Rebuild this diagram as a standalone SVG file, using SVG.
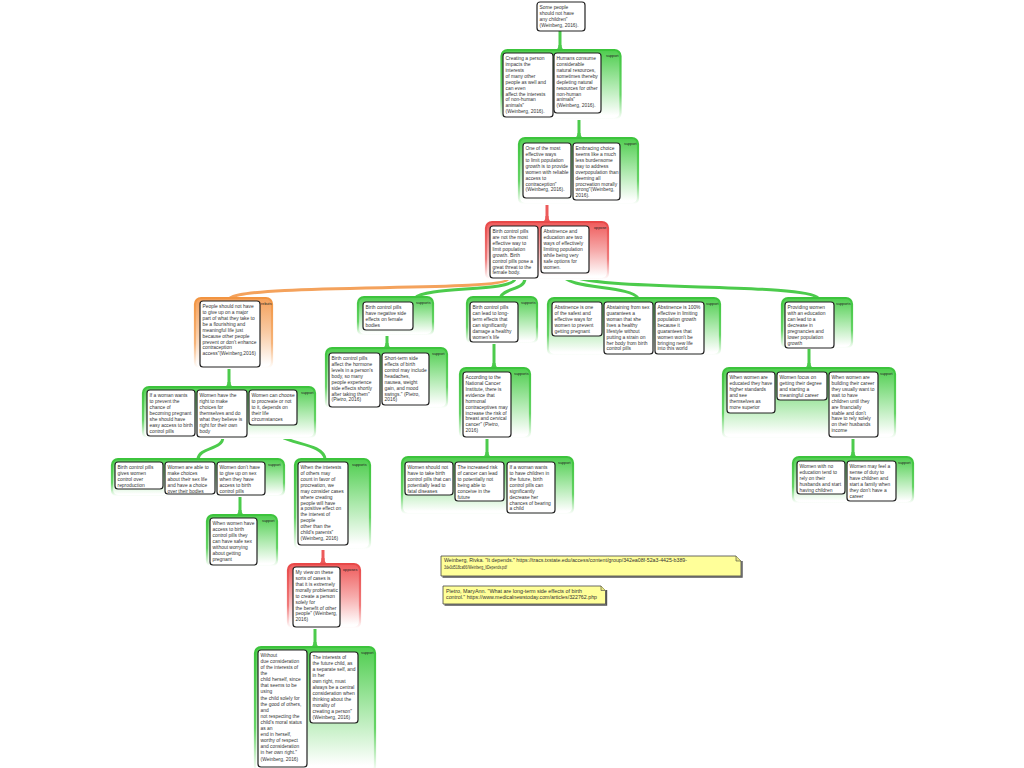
<svg xmlns="http://www.w3.org/2000/svg" width="1024" height="768" viewBox="0 0 1024 768">
<defs>
<linearGradient id="gfG" x1="0" y1="0" x2="0" y2="1"><stop offset="0" stop-color="#4ecd4e"/><stop offset="0.5" stop-color="#ace9ac"/><stop offset="0.95" stop-color="#ffffff"/></linearGradient>
<linearGradient id="gsG" x1="0" y1="0" x2="0" y2="1"><stop offset="0" stop-color="#3cc43c"/><stop offset="0.65" stop-color="#66d466"/><stop offset="1" stop-color="#ffffff"/></linearGradient>
<linearGradient id="gfR" x1="0" y1="0" x2="0" y2="1"><stop offset="0" stop-color="#ef5a5a"/><stop offset="0.5" stop-color="#f6aaaa"/><stop offset="0.95" stop-color="#ffffff"/></linearGradient>
<linearGradient id="gsR" x1="0" y1="0" x2="0" y2="1"><stop offset="0" stop-color="#e84848"/><stop offset="0.65" stop-color="#f07c7c"/><stop offset="1" stop-color="#ffffff"/></linearGradient>
<linearGradient id="gfO" x1="0" y1="0" x2="0" y2="1"><stop offset="0" stop-color="#f5a05a"/><stop offset="0.5" stop-color="#f9cca6"/><stop offset="0.95" stop-color="#ffffff"/></linearGradient>
<linearGradient id="gsO" x1="0" y1="0" x2="0" y2="1"><stop offset="0" stop-color="#f29440"/><stop offset="0.65" stop-color="#f6b47a"/><stop offset="1" stop-color="#ffffff"/></linearGradient>
</defs>
<style>
.gG{fill:url(#gfG);stroke:url(#gsG);stroke-width:2.2}
.gR{fill:url(#gfR);stroke:url(#gsR);stroke-width:2.2}
.gO{fill:url(#gfO);stroke:url(#gsO);stroke-width:2.2}
.bx{fill:#fff;stroke:#222;stroke-width:1.2}
.t{font-family:"Liberation Sans",Arial,sans-serif;font-size:4.9px;fill:#333}
.lb{font-family:"Liberation Sans",Arial,sans-serif;font-size:3.8px;fill:#222}
.nt{font-family:"Liberation Sans",Arial,sans-serif;font-size:4.6px;fill:#333}
.cG{fill:none;stroke:#4ccb4c;stroke-width:3}
.cR{fill:none;stroke:#ec5a5a;stroke-width:3}
.cO{fill:none;stroke:#f4a25c;stroke-width:3}
.fG{fill:#4ccb4c}
.fR{fill:#ec5a5a}
.note{fill:#ffff99;stroke:#444;stroke-width:0.8}
.nsh{fill:none;stroke:#555;stroke-width:1.4}
</style>

<g id="connectors">
<path class="cG" d="M560,31 V50"/><path class="fG" d="M554,50 Q558.5,50 558.5,45 L561.5,45 Q561.5,50 566,50 Z"/>
<path class="cG" d="M579,113 V138"/><path class="fG" d="M573,138 Q577.5,138 577.5,133 L580.5,133 Q580.5,138 585,138 Z"/>
<path class="cR" d="M547,200 V222"/><path class="cR" d="M544,201 H550" stroke-width="1.5"/><path class="fR" d="M541,222 Q545.5,222 545.5,216 L548.5,216 Q548.5,222 553,222 Z"/>
<path class="cO" d="M508,279 C505,292 252,283 230,298"/>
<path class="cG" d="M515,279 C512,292 425,286 415,298"/>
<path class="cG" d="M525,279 C524,290 503,288 500,298"/>
<path class="cG" d="M562,274 C566,290 630,285 638,298"/>
<path class="cG" d="M569,274 C585,292 805,282 818,298"/>
<path class="cG" d="M229,367 V387"/><path class="fG" d="M223,387 Q227.5,387 227.5,382 L230.5,382 Q230.5,387 235,387 Z"/>
<path class="cG" d="M223,437 C223,450 199,447 198,459"/>
<path class="cG" d="M273,425 C273,446 323,440 325,459"/>
<path class="cG" d="M240,495 V515"/><path class="fG" d="M234,515 Q238.5,515 238.5,510 L241.5,510 Q241.5,515 246,515 Z"/>
<path class="cR" d="M323,545 V564"/><path class="cR" d="M320,546 H326" stroke-width="1.5"/><path class="fR" d="M317,564 Q321.5,564 321.5,558 L324.5,558 Q324.5,564 329,564 Z"/>
<path class="cG" d="M315,627 V647"/><path class="fG" d="M309,647 Q313.5,647 313.5,642 L316.5,642 Q316.5,647 321,647 Z"/>
<path class="cG" d="M387,330 V348"/><path class="fG" d="M381,348 Q385.5,348 385.5,343 L388.5,343 Q388.5,348 393,348 Z"/>
<path class="cG" d="M494,342 V368"/><path class="fG" d="M488,368 Q492.5,368 492.5,363 L495.5,363 Q495.5,368 500,368 Z"/>
<path class="cG" d="M487,437 V457"/><path class="fG" d="M481,457 Q485.5,457 485.5,452 L488.5,452 Q488.5,457 493,457 Z"/>
<path class="cG" d="M809,348 V368"/><path class="fG" d="M803,368 Q807.5,368 807.5,363 L810.5,363 Q810.5,368 815,368 Z"/>
<path class="cG" d="M853,437 V457"/><path class="fG" d="M847,457 Q851.5,457 851.5,452 L854.5,452 Q854.5,457 859,457 Z"/>
</g>

<g id="n-some-people">
<rect class="bx" x="537" y="2" width="48" height="29" rx="3"/>
<text class="t" y="8.8"><tspan x="539.5">Some people</tspan><tspan x="539.5" dy="5.95">should not have</tspan><tspan x="539.5" dy="5.95">any children"</tspan><tspan x="539.5" dy="5.95">(Weinberg, 2016).</tspan></text>
</g>

<g id="g1">
<rect class="gG" x="501.5" y="50" width="119" height="69" rx="6"/>
<text class="lb" x="606" y="57">support</text>
<g id="n-creating-person"><rect class="bx" x="503" y="53" width="50" height="64" rx="3"/>
<text class="t" y="59.8"><tspan x="505.5">Creating a person</tspan><tspan x="505.5" dy="5.95">impacts the</tspan><tspan x="505.5" dy="5.95">interests</tspan><tspan x="505.5" dy="5.95">of many other</tspan><tspan x="505.5" dy="5.95">people as well and</tspan><tspan x="505.5" dy="5.95">can even</tspan><tspan x="505.5" dy="5.95">affect the interests</tspan><tspan x="505.5" dy="5.95">of non-human</tspan><tspan x="505.5" dy="5.95">animals"</tspan><tspan x="505.5" dy="5.95">(Weinberg, 2016).</tspan></text></g>
<g id="n-humans-consume"><rect class="bx" x="554" y="53" width="47" height="60" rx="3"/>
<text class="t" y="59.8"><tspan x="556.5">Humans consume</tspan><tspan x="556.5" dy="5.95">considerable</tspan><tspan x="556.5" dy="5.95">natural resources,</tspan><tspan x="556.5" dy="5.95">sometimes thereby</tspan><tspan x="556.5" dy="5.95">depleting natural</tspan><tspan x="556.5" dy="5.95">resources for other</tspan><tspan x="556.5" dy="5.95">non-human</tspan><tspan x="556.5" dy="5.95">animals"</tspan><tspan x="556.5" dy="5.95">(Weinberg, 2016).</tspan></text></g>
</g>

<g id="g2">
<rect class="gG" x="519" y="138" width="119" height="66" rx="6"/>
<text class="lb" x="624" y="145">support</text>
<g id="n-one-of-most"><rect class="bx" x="523" y="143" width="48" height="55" rx="3"/>
<text class="t" y="149.8"><tspan x="525.5">One of the most</tspan><tspan x="525.5" dy="5.95">effective ways</tspan><tspan x="525.5" dy="5.95">to limit population</tspan><tspan x="525.5" dy="5.95">growth is to provide</tspan><tspan x="525.5" dy="5.95">women with reliable</tspan><tspan x="525.5" dy="5.95">access to</tspan><tspan x="525.5" dy="5.95">contraception"</tspan><tspan x="525.5" dy="5.95">(Weinberg, 2016).</tspan></text></g>
<g id="n-embracing-choice"><rect class="bx" x="573" y="143" width="47" height="57" rx="3"/>
<text class="t" y="149.8"><tspan x="575.5">Embracing choice</tspan><tspan x="575.5" dy="5.95">seems like a much</tspan><tspan x="575.5" dy="5.95">less burdensome</tspan><tspan x="575.5" dy="5.95">way to address</tspan><tspan x="575.5" dy="5.95">overpopulation than</tspan><tspan x="575.5" dy="5.95">deeming all</tspan><tspan x="575.5" dy="5.95">procreation morally</tspan><tspan x="575.5" dy="5.95">wrong"(Weinberg,</tspan><tspan x="575.5" dy="5.95">2016).</tspan></text></g>
</g>

<g id="g3">
<rect class="gR" x="486" y="222" width="122" height="57" rx="6"/>
<text class="lb" x="594" y="229">oppose</text>
<g id="n-bcp-not-most"><rect class="bx" x="490" y="226" width="48" height="52" rx="3"/>
<text class="t" y="232.8"><tspan x="492.5">Birth control pills</tspan><tspan x="492.5" dy="5.95">are not the most</tspan><tspan x="492.5" dy="5.95">effective way to</tspan><tspan x="492.5" dy="5.95">limit population</tspan><tspan x="492.5" dy="5.95">growth. Birth</tspan><tspan x="492.5" dy="5.95">control pills pose a</tspan><tspan x="492.5" dy="5.95">great threat to the</tspan><tspan x="492.5" dy="5.95">female body.</tspan></text></g>
<g id="n-abstinence-education"><rect class="bx" x="541" y="226" width="48" height="47" rx="3"/>
<text class="t" y="232.8"><tspan x="543.5">Abstinence and</tspan><tspan x="543.5" dy="5.95">education are two</tspan><tspan x="543.5" dy="5.95">ways of effectively</tspan><tspan x="543.5" dy="5.95">limiting population</tspan><tspan x="543.5" dy="5.95">while being very</tspan><tspan x="543.5" dy="5.95">safe options for</tspan><tspan x="543.5" dy="5.95">women.</tspan></text></g>
</g>

<g id="g4">
<rect class="gO" x="195" y="298" width="77" height="70" rx="6"/>
<text class="lb" x="261" y="305">rebuts</text>
<g id="n-people-should-not"><rect class="bx" x="200" y="301" width="60" height="66" rx="3"/>
<text class="t" y="307.8"><tspan x="202.5">People should not have</tspan><tspan x="202.5" dy="5.95">to give up on a major</tspan><tspan x="202.5" dy="5.95">part of what they take to</tspan><tspan x="202.5" dy="5.95">be a flourishing and</tspan><tspan x="202.5" dy="5.95">meaningful life just</tspan><tspan x="202.5" dy="5.95">because other people</tspan><tspan x="202.5" dy="5.95">prevent or don't enhance</tspan><tspan x="202.5" dy="5.95">contraception</tspan><tspan x="202.5" dy="5.95">access"(Weinberg,2016)</tspan></text></g>
</g>

<g id="g5">
<rect class="gG" x="143" y="387" width="172" height="51" rx="6"/>
<text class="lb" x="301" y="394">support</text>
<g id="n-woman-wants-prevent"><rect class="bx" x="147" y="390" width="48" height="46" rx="3"/>
<text class="t" y="396.8"><tspan x="149.5">If a woman wants</tspan><tspan x="149.5" dy="5.95">to prevent the</tspan><tspan x="149.5" dy="5.95">chance of</tspan><tspan x="149.5" dy="5.95">becoming pregnant</tspan><tspan x="149.5" dy="5.95">she should have</tspan><tspan x="149.5" dy="5.95">easy access to birth</tspan><tspan x="149.5" dy="5.95">control pills</tspan></text></g>
<g id="n-women-right"><rect class="bx" x="197" y="390" width="50" height="47" rx="3"/>
<text class="t" y="396.8"><tspan x="199.5">Women have the</tspan><tspan x="199.5" dy="5.95">right to make</tspan><tspan x="199.5" dy="5.95">choices for</tspan><tspan x="199.5" dy="5.95">themselves and do</tspan><tspan x="199.5" dy="5.95">what they believe is</tspan><tspan x="199.5" dy="5.95">right for their own</tspan><tspan x="199.5" dy="5.95">body</tspan></text></g>
<g id="n-women-choose"><rect class="bx" x="249" y="390" width="48" height="35" rx="3"/>
<text class="t" y="396.8"><tspan x="251.5">Women can choose</tspan><tspan x="251.5" dy="5.95">to procreate or not</tspan><tspan x="251.5" dy="5.95">to it, depends on</tspan><tspan x="251.5" dy="5.95">their life</tspan><tspan x="251.5" dy="5.95">circumstances</tspan></text></g>
</g>

<g id="g6">
<rect class="gG" x="112" y="459" width="172" height="37" rx="6"/>
<text class="lb" x="268" y="466">support</text>
<g id="n-bcp-control"><rect class="bx" x="115" y="462" width="48" height="27" rx="3"/>
<text class="t" y="468.8"><tspan x="117.5">Birth control pills</tspan><tspan x="117.5" dy="5.95">gives women</tspan><tspan x="117.5" dy="5.95">control over</tspan><tspan x="117.5" dy="5.95">reproduction</tspan></text></g>
<g id="n-women-able"><rect class="bx" x="165" y="462" width="50" height="32" rx="3"/>
<text class="t" y="468.8"><tspan x="167.5">Women are able to</tspan><tspan x="167.5" dy="5.95">make choices</tspan><tspan x="167.5" dy="5.95">about their sex life</tspan><tspan x="167.5" dy="5.95">and have a choice</tspan><tspan x="167.5" dy="5.95">over their bodies</tspan></text></g>
<g id="n-women-sex"><rect class="bx" x="217" y="462" width="48" height="33" rx="3"/>
<text class="t" y="468.8"><tspan x="219.5">Women don't have</tspan><tspan x="219.5" dy="5.95">to give up on sex</tspan><tspan x="219.5" dy="5.95">when they have</tspan><tspan x="219.5" dy="5.95">access to birth</tspan><tspan x="219.5" dy="5.95">control pills</tspan></text></g>
</g>

<g id="g7">
<rect class="gG" x="207" y="515" width="70" height="51" rx="6"/>
<text class="lb" x="262" y="522">support</text>
<g id="n-safe-sex"><rect class="bx" x="210" y="518" width="47" height="47" rx="3"/>
<text class="t" y="524.8"><tspan x="212.5">When women have</tspan><tspan x="212.5" dy="5.95">access to birth</tspan><tspan x="212.5" dy="5.95">control pills they</tspan><tspan x="212.5" dy="5.95">can have safe sex</tspan><tspan x="212.5" dy="5.95">without worrying</tspan><tspan x="212.5" dy="5.95">about getting</tspan><tspan x="212.5" dy="5.95">pregnant</tspan></text></g>
</g>

<g id="g8">
<rect class="gG" x="295" y="459" width="75" height="90" rx="6"/>
<text class="lb" x="352" y="466">supports</text>
<g id="n-interests-others"><rect class="bx" x="298" y="462" width="50" height="83" rx="3"/>
<text class="t" y="468.8"><tspan x="300.5">When the interests</tspan><tspan x="300.5" dy="5.95">of others may</tspan><tspan x="300.5" dy="5.95">count in favor of</tspan><tspan x="300.5" dy="5.95">procreation, we</tspan><tspan x="300.5" dy="5.95">may consider cases</tspan><tspan x="300.5" dy="5.95">where creating</tspan><tspan x="300.5" dy="5.95">people will have</tspan><tspan x="300.5" dy="5.95">a positive effect on</tspan><tspan x="300.5" dy="5.95">the interest of</tspan><tspan x="300.5" dy="5.95">people</tspan><tspan x="300.5" dy="5.95">other than the</tspan><tspan x="300.5" dy="5.95">child's parents"</tspan><tspan x="300.5" dy="5.95">(Weinberg, 2016)</tspan></text></g>
</g>

<g id="g9">
<rect class="gR" x="288" y="564" width="72" height="64" rx="6"/>
<text class="lb" x="343" y="571">opposes</text>
<g id="n-my-view"><rect class="bx" x="293" y="567" width="47" height="60" rx="3"/>
<text class="t" y="573.8"><tspan x="295.5">My view on these</tspan><tspan x="295.5" dy="5.95">sorts of cases is</tspan><tspan x="295.5" dy="5.95">that it is extremely</tspan><tspan x="295.5" dy="5.95">morally problematic</tspan><tspan x="295.5" dy="5.95">to create a person</tspan><tspan x="295.5" dy="5.95">solely for</tspan><tspan x="295.5" dy="5.95">the benefit of other</tspan><tspan x="295.5" dy="5.95">people" (Weinberg,</tspan><tspan x="295.5" dy="5.95">2016)</tspan></text></g>
</g>

<g id="g10">
<rect class="gG" x="255" y="647" width="120" height="125" rx="6"/>
<text class="lb" x="361" y="654">support</text>
<g id="n-without"><rect class="bx" x="258" y="650" width="49" height="117" rx="3"/>
<text class="t" y="656.8"><tspan x="260.5">Without</tspan><tspan x="260.5" dy="6.1">due consideration</tspan><tspan x="260.5" dy="6.1">of the interests of</tspan><tspan x="260.5" dy="6.1">the</tspan><tspan x="260.5" dy="6.1">child herself, since</tspan><tspan x="260.5" dy="6.1">that seems to be</tspan><tspan x="260.5" dy="6.1">using</tspan><tspan x="260.5" dy="6.1">the child solely for</tspan><tspan x="260.5" dy="6.1">the good of others,</tspan><tspan x="260.5" dy="6.1">and</tspan><tspan x="260.5" dy="6.1">not respecting the</tspan><tspan x="260.5" dy="6.1">child's moral status</tspan><tspan x="260.5" dy="6.1">as an</tspan><tspan x="260.5" dy="6.1">end in herself,</tspan><tspan x="260.5" dy="6.1">worthy of respect</tspan><tspan x="260.5" dy="6.1">and consideration</tspan><tspan x="260.5" dy="6.1">in her own right."</tspan><tspan x="260.5" dy="6.1">(Weinberg, 2016)</tspan></text></g>
<g id="n-future-child"><rect class="bx" x="310" y="652" width="48" height="71" rx="3"/>
<text class="t" y="658.8"><tspan x="312.5">The interests of</tspan><tspan x="312.5" dy="6">the future child, as</tspan><tspan x="312.5" dy="6">a separate self, and</tspan><tspan x="312.5" dy="6">in her</tspan><tspan x="312.5" dy="6">own right, must</tspan><tspan x="312.5" dy="6">always be a central</tspan><tspan x="312.5" dy="6">consideration when</tspan><tspan x="312.5" dy="6">thinking about the</tspan><tspan x="312.5" dy="6">morality of</tspan><tspan x="312.5" dy="6">creating a person"</tspan><tspan x="312.5" dy="6">(Weinberg, 2016)</tspan></text></g>
</g>

<g id="g11">
<rect class="gG" x="358" y="297" width="75" height="38" rx="6"/>
<text class="lb" x="416" y="304">supports</text>
<g id="n-negative-side"><rect class="bx" x="363" y="302" width="50" height="28" rx="3"/>
<text class="t" y="308.8"><tspan x="365.5">Birth control pills</tspan><tspan x="365.5" dy="5.95">have negative side</tspan><tspan x="365.5" dy="5.95">effects on female</tspan><tspan x="365.5" dy="5.95">bodies</tspan></text></g>
</g>

<g id="g12">
<rect class="gG" x="326" y="348" width="121" height="60" rx="6"/>
<text class="lb" x="432" y="355">support</text>
<g id="n-hormone"><rect class="bx" x="329" y="353" width="51" height="54" rx="3"/>
<text class="t" y="359.8"><tspan x="331.5">Birth control pills</tspan><tspan x="331.5" dy="5.95">affect the hormone</tspan><tspan x="331.5" dy="5.95">levels in a person's</tspan><tspan x="331.5" dy="5.95">body, so many</tspan><tspan x="331.5" dy="5.95">people experience</tspan><tspan x="331.5" dy="5.95">side effects shortly</tspan><tspan x="331.5" dy="5.95">after taking them"</tspan><tspan x="331.5" dy="5.95">(Pietro, 2016)</tspan></text></g>
<g id="n-short-term"><rect class="bx" x="382" y="353" width="47" height="52" rx="3"/>
<text class="t" y="359.8"><tspan x="384.5">Short-term side</tspan><tspan x="384.5" dy="5.95">effects of birth</tspan><tspan x="384.5" dy="5.95">control may include</tspan><tspan x="384.5" dy="5.95">headaches,</tspan><tspan x="384.5" dy="5.95">nausea, weight</tspan><tspan x="384.5" dy="5.95">gain, and mood</tspan><tspan x="384.5" dy="5.95">swings." (Pietro,</tspan><tspan x="384.5" dy="5.95">2016)</tspan></text></g>
</g>

<g id="g13">
<rect class="gG" x="467" y="297" width="70" height="46" rx="6"/>
<text class="lb" x="521" y="304">supports</text>
<g id="n-long-term"><rect class="bx" x="470" y="302" width="48" height="40" rx="3"/>
<text class="t" y="308.8"><tspan x="472.5">Birth control pills</tspan><tspan x="472.5" dy="5.95">can lead to long-</tspan><tspan x="472.5" dy="5.95">term effects that</tspan><tspan x="472.5" dy="5.95">can significantly</tspan><tspan x="472.5" dy="5.95">damage a healthy</tspan><tspan x="472.5" dy="5.95">women's life</tspan></text></g>
</g>

<g id="g14">
<rect class="gG" x="460" y="368" width="70" height="70" rx="6"/>
<text class="lb" x="514" y="375">supports</text>
<g id="n-cancer-institute"><rect class="bx" x="463" y="372" width="48" height="65" rx="3"/>
<text class="t" y="378.8"><tspan x="465.5">According to the</tspan><tspan x="465.5" dy="5.95">National Cancer</tspan><tspan x="465.5" dy="5.95">Institute, there is</tspan><tspan x="465.5" dy="5.95">evidence that</tspan><tspan x="465.5" dy="5.95">hormonal</tspan><tspan x="465.5" dy="5.95">contraceptives may</tspan><tspan x="465.5" dy="5.95">increase the risk of</tspan><tspan x="465.5" dy="5.95">breast and cervical</tspan><tspan x="465.5" dy="5.95">cancer" (Pietro,</tspan><tspan x="465.5" dy="5.95">2016)</tspan></text></g>
</g>

<g id="g15">
<rect class="gG" x="402" y="457" width="171" height="57" rx="6"/>
<text class="lb" x="558" y="464">support</text>
<g id="n-fatal"><rect class="bx" x="405" y="462" width="48" height="33" rx="3"/>
<text class="t" y="468.8"><tspan x="407.5">Women should not</tspan><tspan x="407.5" dy="5.95">have to take birth</tspan><tspan x="407.5" dy="5.95">control pills that can</tspan><tspan x="407.5" dy="5.95">potentially lead to</tspan><tspan x="407.5" dy="5.95">fatal diseases</tspan></text></g>
<g id="n-increased-risk"><rect class="bx" x="455" y="462" width="49" height="39" rx="3"/>
<text class="t" y="468.8"><tspan x="457.5">The increased risk</tspan><tspan x="457.5" dy="5.95">of cancer can lead</tspan><tspan x="457.5" dy="5.95">to potentially not</tspan><tspan x="457.5" dy="5.95">being able to</tspan><tspan x="457.5" dy="5.95">conceive in the</tspan><tspan x="457.5" dy="5.95">future</tspan></text></g>
<g id="n-bearing-child"><rect class="bx" x="507" y="462" width="48" height="51" rx="3"/>
<text class="t" y="468.8"><tspan x="509.5">If a woman wants</tspan><tspan x="509.5" dy="5.95">to have children in</tspan><tspan x="509.5" dy="5.95">the future, birth</tspan><tspan x="509.5" dy="5.95">control pills can</tspan><tspan x="509.5" dy="5.95">significantly</tspan><tspan x="509.5" dy="5.95">decrease her</tspan><tspan x="509.5" dy="5.95">chances of bearing</tspan><tspan x="509.5" dy="5.95">a child</tspan></text></g>
</g>

<g id="g16">
<rect class="gG" x="548" y="298" width="172" height="57" rx="6"/>
<text class="lb" x="706" y="305">support</text>
<g id="n-abstinence-safest"><rect class="bx" x="552" y="302" width="50" height="34" rx="3"/>
<text class="t" y="308.8"><tspan x="554.5">Abstinence is one</tspan><tspan x="554.5" dy="5.95">of the safest and</tspan><tspan x="554.5" dy="5.95">effective ways for</tspan><tspan x="554.5" dy="5.95">women to prevent</tspan><tspan x="554.5" dy="5.95">getting pregnant</tspan></text></g>
<g id="n-abstaining"><rect class="bx" x="604" y="302" width="49" height="52" rx="3"/>
<text class="t" y="308.8"><tspan x="606.5">Abstaining from sex</tspan><tspan x="606.5" dy="5.95">guarantees a</tspan><tspan x="606.5" dy="5.95">woman that she</tspan><tspan x="606.5" dy="5.95">lives a healthy</tspan><tspan x="606.5" dy="5.95">lifestyle without</tspan><tspan x="606.5" dy="5.95">putting a strain on</tspan><tspan x="606.5" dy="5.95">her body from birth</tspan><tspan x="606.5" dy="5.95">control pills</tspan></text></g>
<g id="n-abstinence-100"><rect class="bx" x="655" y="302" width="49" height="52" rx="3"/>
<text class="t" y="308.8"><tspan x="657.5">Abstinence is 100%</tspan><tspan x="657.5" dy="5.95">effective in limiting</tspan><tspan x="657.5" dy="5.95">population growth</tspan><tspan x="657.5" dy="5.95">because it</tspan><tspan x="657.5" dy="5.95">guarantees that</tspan><tspan x="657.5" dy="5.95">women won't be</tspan><tspan x="657.5" dy="5.95">bringing new life</tspan><tspan x="657.5" dy="5.95">into this world</tspan></text></g>
</g>

<g id="g17">
<rect class="gG" x="782" y="298" width="70" height="50" rx="6"/>
<text class="lb" x="836" y="305">supports</text>
<g id="n-providing-education"><rect class="bx" x="785" y="302" width="49" height="46" rx="3"/>
<text class="t" y="308.8"><tspan x="787.5">Providing women</tspan><tspan x="787.5" dy="5.95">with an education</tspan><tspan x="787.5" dy="5.95">can lead to a</tspan><tspan x="787.5" dy="5.95">decrease in</tspan><tspan x="787.5" dy="5.95">pregnancies and</tspan><tspan x="787.5" dy="5.95">lower population</tspan><tspan x="787.5" dy="5.95">growth</tspan></text></g>
</g>

<g id="g18">
<rect class="gG" x="723" y="368" width="172" height="70" rx="6"/>
<text class="lb" x="880" y="375">support</text>
<g id="n-higher-standards"><rect class="bx" x="727" y="372" width="48" height="41" rx="3"/>
<text class="t" y="378.8"><tspan x="729.5">When women are</tspan><tspan x="729.5" dy="5.95">educated they have</tspan><tspan x="729.5" dy="5.95">higher standards</tspan><tspan x="729.5" dy="5.95">and see</tspan><tspan x="729.5" dy="5.95">themselves as</tspan><tspan x="729.5" dy="5.95">more superior</tspan></text></g>
<g id="n-degree"><rect class="bx" x="777" y="372" width="50" height="28" rx="3"/>
<text class="t" y="378.8"><tspan x="779.5">Women focus on</tspan><tspan x="779.5" dy="5.95">getting their degree</tspan><tspan x="779.5" dy="5.95">and starting a</tspan><tspan x="779.5" dy="5.95">meaningful career</tspan></text></g>
<g id="n-career"><rect class="bx" x="829" y="372" width="49" height="65" rx="3"/>
<text class="t" y="378.8"><tspan x="831.5">When women are</tspan><tspan x="831.5" dy="5.95">building their career</tspan><tspan x="831.5" dy="5.95">they usually want to</tspan><tspan x="831.5" dy="5.95">wait to have</tspan><tspan x="831.5" dy="5.95">children until they</tspan><tspan x="831.5" dy="5.95">are financially</tspan><tspan x="831.5" dy="5.95">stable and don't</tspan><tspan x="831.5" dy="5.95">have to rely solely</tspan><tspan x="831.5" dy="5.95">on their husbands</tspan><tspan x="831.5" dy="5.95">income</tspan></text></g>
</g>

<g id="g19">
<rect class="gG" x="793" y="457" width="120" height="46" rx="6"/>
<text class="lb" x="898" y="464">support</text>
<g id="n-no-education"><rect class="bx" x="797" y="461" width="48" height="33" rx="3"/>
<text class="t" y="467.8"><tspan x="799.5">Women with no</tspan><tspan x="799.5" dy="5.95">education tend to</tspan><tspan x="799.5" dy="5.95">rely on their</tspan><tspan x="799.5" dy="5.95">husbands and start</tspan><tspan x="799.5" dy="5.95">having children</tspan></text></g>
<g id="n-duty"><rect class="bx" x="847" y="461" width="49" height="40" rx="3"/>
<text class="t" y="467.8"><tspan x="849.5">Women may feel a</tspan><tspan x="849.5" dy="5.95">sense of duty to</tspan><tspan x="849.5" dy="5.95">have children and</tspan><tspan x="849.5" dy="5.95">start a family when</tspan><tspan x="849.5" dy="5.95">they don't have a</tspan><tspan x="849.5" dy="5.95">career</tspan></text></g>
</g>

<g id="note-weinberg">
<path class="nsh" d="M442.5,577 H742 V561"/>
<path class="note" d="M441,556 H736 L741,561 V576 H441 Z"/>
<path d="M736,556 V561 H741" fill="#e6e680" stroke="#444" stroke-width="0.6"/>
<text class="nt" x="444" y="562"><tspan x="444" textLength="243" lengthAdjust="spacingAndGlyphs">Weinberg, Rivka. "It depends." https://tracs.txstate.edu/access/content/group/342ea08f-52a3-4425-b389-</tspan><tspan x="444" y="568.5" textLength="63" lengthAdjust="spacingAndGlyphs">3de3d518ca66/Weinberg_ItDepends.pdf</tspan></text>
</g>
<g id="note-pietro">
<path class="nsh" d="M444.5,605 H606.5 V590"/>
<path class="note" d="M443,586 H601 L605.5,590.5 V604 H443 Z"/>
<path d="M601,586 V590.5 H605.5" fill="#e6e680" stroke="#444" stroke-width="0.6"/>
<text class="nt" x="446" y="593"><tspan x="446" textLength="136" lengthAdjust="spacingAndGlyphs">Pietro, MaryAnn. "What are long-term side effects of birth</tspan><tspan x="446" y="599" textLength="151" lengthAdjust="spacingAndGlyphs">control." https://www.medicalnewstoday.com/articles/322762.php</tspan></text>
</g>
</svg>
